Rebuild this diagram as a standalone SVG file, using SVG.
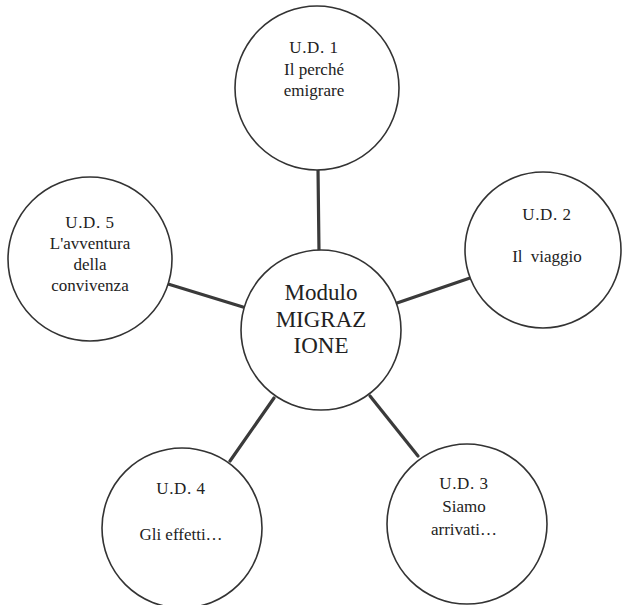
<svg xmlns="http://www.w3.org/2000/svg" width="622" height="605" viewBox="0 0 622 605">
<style>
.bg{fill:#ffffff}
.node circle{fill:#ffffff;stroke:#333333;stroke-width:1.6}
.node text{font-family:"Liberation Serif","DejaVu Serif",serif;font-size:17px;fill:#222222;text-anchor:middle}
#center text{font-size:23px}
.conn line{stroke:#3a3a3a;stroke-width:3.2;stroke-linecap:round}
</style>
<rect class="bg" x="0" y="0" width="622" height="605"/>
<g id="connectors" class="conn">
<line x1="318" y1="168" x2="319" y2="252"/>
<line x1="397" y1="303" x2="470" y2="278"/>
<line x1="370" y1="396" x2="418" y2="456"/>
<line x1="274" y1="398" x2="230" y2="461"/>
<line x1="243" y1="307" x2="168" y2="284"/>
</g>
<g id="center" class="node">
<circle cx="321" cy="330" r="80"/>
<text x="321" y="300">Modulo</text>
<text x="321" y="327">MIGRAZ</text>
<text x="321" y="353">IONE</text>
</g>
<g id="ud1" class="node">
<circle cx="317" cy="88" r="82"/>
<text x="314" y="53" letter-spacing="0.6">U.D. 1</text>
<text x="314" y="75">Il perché</text>
<text x="314" y="96">emigrare</text>
</g>
<g id="ud2" class="node">
<circle cx="543" cy="250" r="78"/>
<text x="547" y="220" letter-spacing="0.6">U.D. 2</text>
<text x="547" y="262" word-spacing="4">Il viaggio</text>
</g>
<g id="ud3" class="node">
<circle cx="467" cy="524" r="80"/>
<text x="464" y="489" letter-spacing="0.6">U.D. 3</text>
<text x="464" y="512">Siamo</text>
<text x="464" y="535">arrivati…</text>
</g>
<g id="ud4" class="node">
<circle cx="182" cy="528" r="80"/>
<text x="181" y="494" letter-spacing="0.6">U.D. 4</text>
<text x="181" y="540">Gli effetti…</text>
</g>
<g id="ud5" class="node">
<circle cx="90" cy="259" r="82"/>
<text x="90" y="228" letter-spacing="0.6">U.D. 5</text>
<text x="90" y="249">L'avventura</text>
<text x="90" y="270">della</text>
<text x="90" y="291">convivenza</text>
</g>
</svg>
